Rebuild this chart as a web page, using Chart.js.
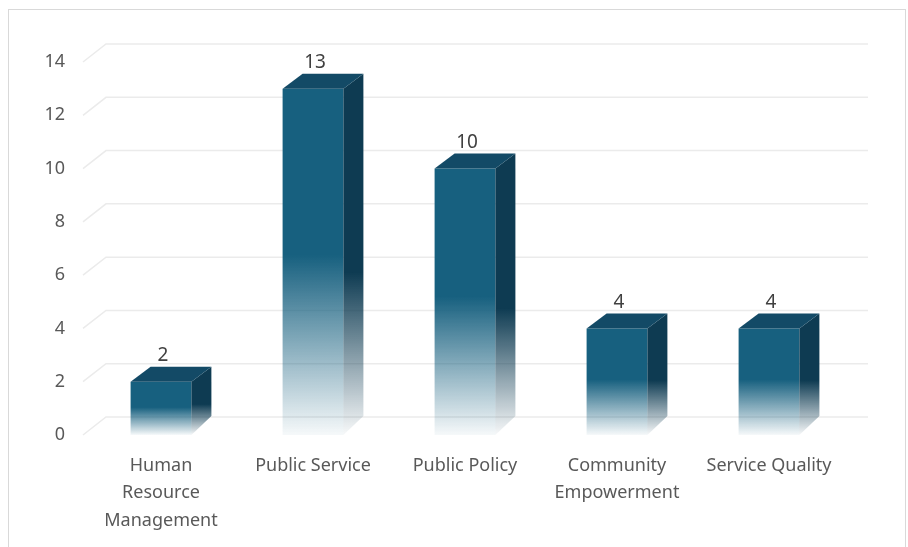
<!DOCTYPE html>
<html>
<head>
<meta charset="utf-8">
<script src="https://cdn.jsdelivr.net/npm/chart.js@4.4.1/dist/chart.umd.min.js"></script>
<style>
  html, body { margin: 0; padding: 0; background: #fff; }
  #frame {
    position: absolute; left: 8px; top: 9px; width: 898px; height: 545px;
    border: 1px solid #d9d9d9; box-sizing: border-box;
  }
  #wrap { position: absolute; left: 0; top: 0; width: 908px; height: 547px; }
</style>
</head>
<body>
<div id="frame"></div>
<div id="wrap"><canvas id="chart" width="908" height="547"></canvas></div>
<script>
// Data
const categories = [['Human', 'Resource', 'Management'], 'Public Service', 'Public Policy', ['Community', 'Empowerment'], 'Service Quality'];
const counts = [2, 13, 10, 4, 4];
const yMin = 0;
const yMax = 14;
const yStep = 2;

// 3D look
const depthX = 20;
const depthY = 15;
const frontColor = '#17607f';
const topColor = '#134a66';
const sideColor = '#0e3b52';

// back wall grid with the little diagonal at the left
const wallGrid = {
    id: 'wallGrid',
    beforeDatasetsDraw(chart) {
        const { ctx, chartArea, scales } = chart;
        ctx.save();
        ctx.strokeStyle = '#ebebeb';
        ctx.lineWidth = 1.5;
        scales.y.ticks.forEach(t => {
            const y = scales.y.getPixelForValue(t.value);
            ctx.beginPath();
            ctx.moveTo(chartArea.left - 2, y);
            ctx.lineTo(chartArea.left + 21, y - 18);
            ctx.lineTo(chartArea.right + 23, y - 18);
            ctx.stroke();
        });
        ctx.restore();
    }
};

// top + side faces and value labels
const bars3d = {
    id: 'bars3d',
    afterDatasetsDraw(chart) {
        const { ctx } = chart;
        const meta = chart.getDatasetMeta(0);
        ctx.save();
        meta.data.forEach((bar, i) => {
            const p = bar.getProps(['x', 'y', 'base', 'width'], true);
            const left = p.x - p.width / 2;
            const right = p.x + p.width / 2;
            const top = p.y;
            const base = p.base;

            // side
            const sg = ctx.createLinearGradient(0, top - depthY, 0, base);
            sg.addColorStop(0, sideColor);
            sg.addColorStop(0.55, sideColor);
            sg.addColorStop(1, 'rgba(14,59,82,0.03)');
            ctx.fillStyle = sg;
            ctx.beginPath();
            ctx.moveTo(right, top);
            ctx.lineTo(right + depthX, top - depthY);
            ctx.lineTo(right + depthX, base - depthY - 4);
            ctx.lineTo(right, base);
            ctx.closePath();
            ctx.fill();

            // top
            ctx.fillStyle = topColor;
            ctx.beginPath();
            ctx.moveTo(left, top);
            ctx.lineTo(left + depthX, top - depthY);
            ctx.lineTo(right + depthX, top - depthY);
            ctx.lineTo(right, top);
            ctx.closePath();
            ctx.fill();

            // value
            ctx.fillStyle = '#404040';
            ctx.font = '19px "Noto Sans"';
            ctx.textAlign = 'center';
            ctx.textBaseline = 'middle';
            ctx.fillText(String(counts[i]), p.x + 2, top - depthY - 11);
        });
        ctx.restore();
    }
};

function frontFill(context) {
    const chart = context.chart;
    if (!chart.chartArea) return frontColor;
    const y = chart.scales.y;
    const v = context.raw;
    const top = y.getPixelForValue(v);
    const base = y.getPixelForValue(0);
    const g = chart.ctx.createLinearGradient(0, top, 0, base);
    g.addColorStop(0, frontColor);
    g.addColorStop(0.48, frontColor);
    g.addColorStop(1, 'rgba(23,96,127,0.04)');
    return g;
}

const ctx = document.getElementById('chart').getContext('2d');
const chart = new Chart(ctx, {
    type: 'bar',
    data: {
        labels: categories,
        datasets: [{
            data: counts,
            backgroundColor: frontFill,
            borderWidth: 0,
            categoryPercentage: 1,
            barPercentage: 0.4
        }]
    },
    options: {
        responsive: false,
        animation: false,
        layout: { padding: { top: 62, right: 63, bottom: 0, left: 0 } },
        plugins: { legend: { display: false }, tooltip: { enabled: false } },
        scales: {
            x: {
                grid: { display: false, drawTicks: false },
                border: { display: false },
                ticks: {
                    color: '#595959',
                    font: { family: 'Noto Sans', size: 18, lineHeight: 1.52 },
                    padding: 17,
                    maxRotation: 0,
                    autoSkip: false
                },
                afterFit(scale) { scale.height = 112; }
            },
            y: {
                min: yMin,
                max: yMax,
                grid: { display: false, drawTicks: false },
                border: { display: false },
                ticks: {
                    stepSize: yStep,
                    color: '#595959',
                    font: { family: 'Noto Sans', size: 18 },
                    padding: 20
                },
                afterFit(scale) { scale.width = 85; }
            }
        }
    },
    plugins: [wallGrid, bars3d]
});
</script>
</body>
</html>
